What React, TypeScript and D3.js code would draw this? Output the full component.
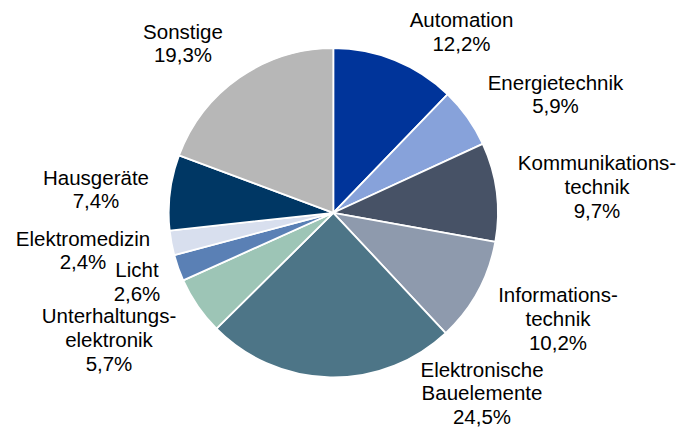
import React from "react";
import * as d3 from "d3";

const categories = [
  "Automation",
  "Energietechnik",
  "Kommunikationstechnik",
  "Informationstechnik",
  "Elektronische Bauelemente",
  "Unterhaltungselektronik",
  "Licht",
  "Elektromedizin",
  "Hausgeräte",
  "Sonstige",
];
const values = [12.2, 5.9, 9.7, 10.2, 24.5, 5.7, 2.6, 2.4, 7.4, 19.3];
const labelLines = [
  ["Automation"],
  ["Energietechnik"],
  ["Kommunikations-", "technik"],
  ["Informations-", "technik"],
  ["Elektronische", "Bauelemente"],
  ["Unterhaltungs-", "elektronik"],
  ["Licht"],
  ["Elektromedizin"],
  ["Hausgeräte"],
  ["Sonstige"],
];
const colors = [
  "#00349A",
  "#87A2DA",
  "#475266",
  "#8E9AAD",
  "#4D7587",
  "#9DC5B6",
  "#5A80B5",
  "#D8DFEE",
  "#003764",
  "#B7B7B7",
];
// label layout: center x and first baseline y
const labelLayout = [
  [461.5, 27],
  [555.5, 89.5],
  [597, 170],
  [558, 302],
  [482, 376.5],
  [109, 323],
  [137, 277],
  [83, 245.5],
  [96, 184.5],
  [183, 38.5],
];

const W = 683;
const H = 430;
const cx = 333.3;
const cy = 212.8;
const R = 164.6;
const LH = 23.8;

const fmt = (v: number) => v.toFixed(1).replace(".", ",") + "%";

export default function App() {
  const pie = d3
    .pie<number>()
    .sort(null)
    .value((d) => d)
    .startAngle(0)
    .endAngle(2 * Math.PI);
  const arcs = pie(values);
  const arc = d3.arc<d3.PieArcDatum<number>>().innerRadius(0).outerRadius(R);

  return (
    <svg
      width={W}
      height={H}
      style={{ position: "absolute", left: 0, top: 0, background: "#fff" }}
    >
      <g transform={`translate(${cx},${cy})`}>
        {arcs.map((a, i) => (
          <path
            key={categories[i]}
            d={arc(a) || ""}
            fill={colors[i]}
            stroke="#fff"
            strokeWidth={1.8}
            strokeLinejoin="round"
          />
        ))}
      </g>
      <g
        fontFamily="'Liberation Sans', Arial, sans-serif"
        fontSize={20.5}
        fill="#000"
        textAnchor="middle"
      >
        {labelLines.map((lines, i) => {
          const [x, y] = labelLayout[i];
          const all = [...lines, fmt(values[i])];
          return (
            <text key={categories[i]} x={x} y={y}>
              {all.map((t, j) => (
                <tspan key={j} x={x} y={y + j * LH}>
                  {t}
                </tspan>
              ))}
            </text>
          );
        })}
      </g>
    </svg>
  );
}
